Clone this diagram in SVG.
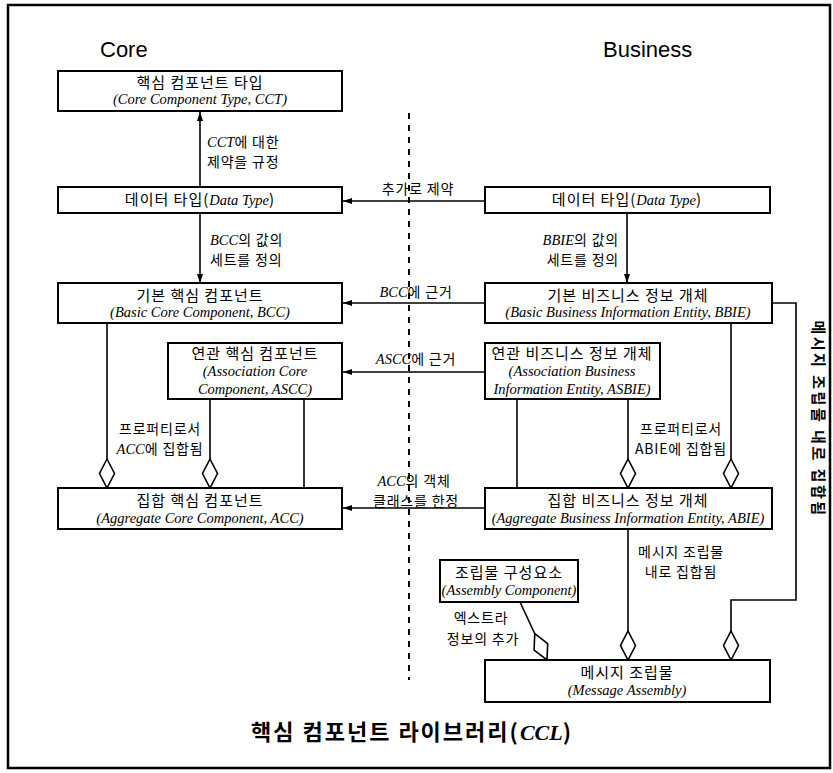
<svg xmlns="http://www.w3.org/2000/svg" width="833" height="773" viewBox="0 0 833 773">
<style>
.box{fill:#fff;stroke:#000;stroke-width:2}
.ln{fill:none;stroke:#000;stroke-width:1.6}
.ko{font-family:"Noto Sans CJK KR","Noto Sans",sans-serif;font-size:14px;letter-spacing:0.8px;fill:#000}
.kb{font-family:"Noto Sans CJK KR","Noto Sans",sans-serif;font-size:15px;letter-spacing:1px;fill:#000}
.en{font-family:"Liberation Serif",serif;font-style:italic;font-size:14.5px;letter-spacing:0;fill:#000}
.hd{font-family:"Liberation Sans",Arial,sans-serif;font-size:22px;fill:#000}
.c{text-anchor:middle}
</style>
<defs>
<marker id="arr" markerUnits="userSpaceOnUse" markerWidth="9" markerHeight="8" viewBox="0 -4 9 8" refX="9" refY="0" orient="auto">
<path d="M0,-3 L9,0 L0,3 Z" fill="#000"/>
</marker>
<marker id="dia" markerUnits="userSpaceOnUse" markerWidth="32" markerHeight="18" viewBox="-1 -9 32 18" refX="29" refY="0" orient="auto">
<path d="M0,0 L14.5,-7.5 L29,0 L14.5,7.5 Z" fill="#fff" stroke="#000" stroke-width="1.6"/>
</marker>
</defs>
<rect x="8" y="5" width="822" height="763" fill="none" stroke="#000" stroke-width="2.5"/>
<text class="hd" x="100" y="57">Core</text>
<text class="hd" x="603" y="57">Business</text>
<line x1="409" y1="113" x2="409" y2="680" stroke="#000" stroke-width="2" stroke-dasharray="6 6"/>

<g id="connectors">
<path class="ln" d="M200,187 L200,112" marker-end="url(#arr)"/>
<path class="ln" d="M200,213 L200,283" marker-end="url(#arr)"/>
<path class="ln" d="M485,201 L343,201" marker-end="url(#arr)"/>
<path class="ln" d="M627,213 L627,283" marker-end="url(#arr)"/>
<path class="ln" d="M485,303 L343,303" marker-end="url(#arr)"/>
<path class="ln" d="M485,372 L343,372" marker-end="url(#arr)"/>
<path class="ln" d="M485,508 L343,508" marker-end="url(#arr)"/>
<path class="ln" d="M107,323 L107,488" marker-end="url(#dia)"/>
<path class="ln" d="M210,399 L210,488" marker-end="url(#dia)"/>
<path class="ln" d="M304,399 L304,488"/>
<path class="ln" d="M517,399 L517,488"/>
<path class="ln" d="M628,399 L628,488" marker-end="url(#dia)"/>
<path class="ln" d="M731,323 L731,488" marker-end="url(#dia)"/>
<path class="ln" d="M628,529 L628,660" marker-end="url(#dia)"/>
<path class="ln" d="M772,303 L796,303 L796,600 L731,600 L731,660" marker-end="url(#dia)"/>
<path class="ln" d="M520,602 L547,660" marker-end="url(#dia)"/>
<text class="ko" x="207" y="147"><tspan class="en">CCT</tspan>에 대한</text>
<text class="ko" x="207" y="167">제약을 규정</text>
<text class="ko" x="210" y="245"><tspan class="en">BCC</tspan>의 값의</text>
<text class="ko" x="210" y="265">세트를 정의</text>
<text class="ko" x="619" y="245" text-anchor="end"><tspan class="en">BBIE</tspan>의 값의</text>
<text class="ko" x="619" y="265" text-anchor="end">세트를 정의</text>
<text class="ko c" x="418" y="194">추가로 제약</text>
<text class="ko c" x="416" y="297"><tspan class="en">BCC</tspan>에 근거</text>
<text class="ko c" x="416" y="364"><tspan class="en">ASCC</tspan>에 근거</text>
<text class="ko c" x="414" y="486"><tspan class="en">ACC</tspan>의 객체</text>
<text class="ko c" x="416" y="506">클래스를 한정</text>
<text class="ko c" x="160" y="434">프로퍼티로서</text>
<text class="ko c" x="160" y="454"><tspan class="en">ACC</tspan>에 집합됨</text>
<text class="ko c" x="681" y="434">프로퍼티로서</text>
<text class="ko c" x="681" y="454">ABIE에 집합됨</text>
<text class="ko c" x="681" y="557">메시지 조립물</text>
<text class="ko c" x="681" y="577">내로 집합됨</text>
<text class="ko c" x="481" y="623">엑스트라</text>
<text class="ko c" x="483" y="644">정보의 추가</text>
<text class="ko c" x="813" y="419" transform="rotate(90 813 419)" style="font-size:15px;font-weight:bold;letter-spacing:2.5px">메시지 조립물 내로 집합됨</text>
</g>

<g id="cct">
<rect class="box" x="58" y="71" width="284" height="40"/>
<text class="kb c" x="200" y="88">핵심 컴포넌트 타입</text>
<text class="en c" x="200" y="104">(Core Component Type, CCT)</text>
</g>
<g id="core-dt">
<rect class="box" x="58" y="187" width="284" height="26"/>
<text class="kb c" x="200" y="205">데이터 타입(<tspan class="en">Data Type</tspan>)</text>
</g>
<g id="bcc">
<rect class="box" x="58" y="283" width="284" height="40"/>
<text class="kb c" x="200" y="301">기본 핵심 컴포넌트</text>
<text class="en c" x="200" y="317">(Basic Core Component, BCC)</text>
</g>
<g id="ascc">
<rect class="box" x="168" y="343" width="174" height="56"/>
<text class="kb c" x="255" y="359">연관 핵심 컴포넌트</text>
<text class="en c" x="255" y="376">(Association Core</text>
<text class="en c" x="255" y="394">Component, ASCC)</text>
</g>
<g id="acc">
<rect class="box" x="58" y="488" width="284" height="41"/>
<text class="kb c" x="200" y="506">집합 핵심 컴포넌트</text>
<text class="en c" x="200" y="523">(Aggregate Core Component, ACC)</text>
</g>
<g id="bus-dt">
<rect class="box" x="485" y="187" width="285" height="26"/>
<text class="kb c" x="627" y="205">데이터 타입(<tspan class="en">Data Type</tspan>)</text>
</g>
<g id="bbie">
<rect class="box" x="485" y="283" width="287" height="40"/>
<text class="kb c" x="628" y="301">기본 비즈니스 정보 개체</text>
<text class="en c" x="628" y="317">(Basic Business Information Entity, BBIE)</text>
</g>
<g id="asbie">
<rect class="box" x="485" y="343" width="175" height="56"/>
<text class="kb c" x="572" y="359">연관 비즈니스 정보 개체</text>
<text class="en c" x="572" y="376">(Association Business</text>
<text class="en c" x="572" y="394">Information Entity, ASBIE)</text>
</g>
<g id="abie">
<rect class="box" x="485" y="488" width="287" height="41"/>
<text class="kb c" x="628" y="506">집합 비즈니스 정보 개체</text>
<text class="en c" x="628" y="523">(Aggregate Business Information Entity, ABIE)</text>
</g>
<g id="assembly-component">
<rect class="box" x="440" y="560" width="138" height="42"/>
<text class="kb c" x="509" y="578">조립물 구성요소</text>
<text class="en c" x="509" y="595">(Assembly Component)</text>
</g>
<g id="message-assembly">
<rect class="box" x="485" y="660" width="285" height="42"/>
<text class="kb c" x="627" y="678">메시지 조립물</text>
<text class="en c" x="627" y="695">(Message Assembly)</text>
</g>
<text x="412" y="740" text-anchor="middle" style="font-family:'Noto Sans CJK KR',sans-serif;font-size:22px;font-weight:bold;letter-spacing:2px">핵심 컴포넌트 라이브러리(<tspan style="font-family:'Liberation Serif',serif;font-style:italic;letter-spacing:0">CCL</tspan>)</text>
</svg>
